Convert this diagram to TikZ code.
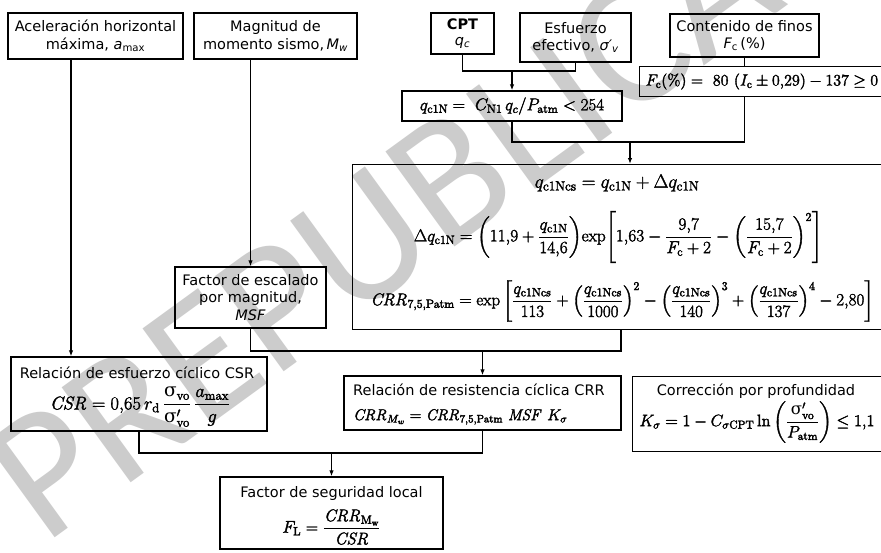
\documentclass[tikz,border=0pt]{standalone}
\usepackage{fix-cm}
\usepackage{amsmath}
\usepackage[no-math]{fontspec}
\setmainfont{DejaVu Sans}
\newfontfamily\wmfont{Carlito}
\newfontfamily\grkfont{DejaVu Serif}
\usetikzlibrary{arrows.meta}

% slightly heavier glyphs for the formulas (fill + thin stroke)
\newcommand\heavyon{\special{pdf:literal direct 2 Tr 0.35 w}}
\newcommand\heavyoff{\special{pdf:literal direct 0 Tr}}

% upright sigma for the vertical stresses (drawn without the extra stroke)
\newcommand\usig{\mathord{\text{\heavyoff\grkfont σ\heavyon}}}

\tikzset{
  box/.style={draw, line width=1.3pt, inner sep=0pt, align=center},
  conn/.style={line width=1.2pt},
  arr/.style={conn, -{Latex[length=6pt,width=4.5pt]}},
  txt/.style={font=\fontsize{14.5}{17.5}\selectfont},
  eqbase/.style={execute at begin node=\heavyon, execute at end node=\heavyoff},
  eq/.style={eqbase, font=\fontsize{17}{20}\selectfont},
  wmark/.style={text=black!20, font=\fontsize{183}{183}\selectfont\wmfont},
}

\begin{document}
\begin{tikzpicture}[x=1pt, y=-1pt]
\useasboundingbox (0,0) rectangle (881,552);
\clip (0,0) rectangle (881,552);
\fill[white] (0,0) rectangle (881,552);

% watermark
\node[wmark, anchor=base west, rotate=36, inner sep=0pt] (wm) at (44,546) {PREPUBLICACIÓN};

% input boxes
\node[box, txt, minimum width=175pt, minimum height=46pt] (acc) at (95.5,36)
  {Aceleración horizontal\\máxima, {\itshape a}\textsubscript{max}};
\node[box, txt, minimum width=163pt, minimum height=46pt] (mag) at (275.5,36)
  {Magnitud de\\momento sismo,\,{\itshape M}\textsubscript{\itshape w}};
\node[box, txt, minimum width=63pt, minimum height=41pt] (cpt) at (462.5,33.5)
  {\textbf{CPT}\\[-2pt]{\itshape q}\textsubscript{\itshape c}};
\node[box, txt, minimum width=111pt, minimum height=49pt] (esf) at (575.5,37.5)
  {Esfuerzo\\efectivo, {\itshape σ′}\textsubscript{\itshape v}};
\node[box, txt, minimum width=149pt, minimum height=43pt] (fin) at (744.5,35.5)
  {Contenido de finos\\{\itshape F}\textsubscript{c}\,(\%)};

% normalised tip resistance and fines content
\node[box, eq, minimum width=220pt, minimum height=30pt] (qn) at (512,106)
  {$q_{\mathrm{c1N}} = \ C_{\mathrm{N1}}\,q_c/P_{\mathrm{atm}} < 254$};
\node[box, eqbase, font=\fontsize{16}{19}\selectfont, minimum height=30pt, anchor=west, text width=250pt, align=left, inner xsep=6pt] (fcq) at (639,81.5)
  {$F_{\mathrm{c}}(\%) = \ 80\ (I_{\mathrm{c}} \pm 0{,}29) - 137 \geq 0$};

% clean-sand equivalent and CRR
\node[box, minimum width=540pt, minimum height=165pt, anchor=north west] (big) at (352,164) {};
\node[eqbase, font=\fontsize{19}{22}\selectfont] (e1) at (617,183)
  {$q_{\mathrm{c1Ncs}} = q_{\mathrm{c1N}} + \Delta q_{\mathrm{c1N}}$};
\node[eqbase, font=\fontsize{17.2}{21}\selectfont] (e2) at (618,237)
  {$\Delta q_{\mathrm{c1N}} = \left(11{,}9 + \dfrac{q_{\mathrm{c1N}}}{14{,}6}\right)\!\exp\!\left[1{,}63 - \dfrac{9{,}7}{F_{\mathrm{c}}+2} - \left(\dfrac{15{,}7}{F_{\mathrm{c}}+2}\right)^{2}\right]$};
\node[eq] (e3) at (622,301)
  {$\mathit{CRR}_{7{,}5,\mathrm{Patm}} = \exp\left[\dfrac{q_{\mathrm{c1Ncs}}}{113} + \left(\dfrac{q_{\mathrm{c1Ncs}}}{1000}\right)^{2} - \left(\dfrac{q_{\mathrm{c1Ncs}}}{140}\right)^{3} + \left(\dfrac{q_{\mathrm{c1Ncs}}}{137}\right)^{4} -2{,}80\right]$};

% magnitude scaling factor
\node[box, txt, minimum width=151pt, minimum height=61pt] (msf) at (250.5,297.5)
  {Factor de escalado\\por magnitud,\\{\itshape MSF}};

% cyclic stress ratio
\node[box, minimum width=256pt, minimum height=74pt] (csr) at (139,394) {};
\node[txt] (csrt) at (137,373) {Relación de esfuerzo cíclico CSR};
\node[eqbase, font=\fontsize{18.5}{22}\selectfont] (csre) at (140,407)
  {$\mathit{CSR} = 0{,}65\,r_{\mathrm{d}}\,\dfrac{\usig_{\mathrm{vo}}}{\usig'_{\mathrm{vo}}}\,\dfrac{a_{\max}}{g}$};

% cyclic resistance ratio
\node[box, minimum width=277pt, minimum height=54pt] (crr) at (482.5,403) {};
\node[txt, anchor=west, inner sep=0pt] (crrt) at (353,390) {Relación de resistencia cíclica CRR};
\node[eqbase, font=\fontsize{15.6}{19}\selectfont, anchor=west, inner sep=0pt] (crre) at (353,417)
  {$\mathit{CRR}_{M_w} = \mathit{CRR}_{7{,}5,\mathrm{Patm}}\ \mathit{MSF}\ K_{\sigma}$};

% depth correction
\node[box, minimum width=270pt, minimum height=75pt, anchor=north west] (ks) at (632,376) {};
\node[txt] (kst) at (756,391) {Corrección por profundidad};
\node[eqbase, font=\fontsize{16.5}{20}\selectfont] (kse) at (757,422)
  {$K_{\sigma} = 1 - C_{\sigma\mathrm{CPT}}\ln\left(\dfrac{\usig'_{\mathrm{vo}}}{P_{\mathrm{atm}}}\right) \leq 1{,}1$};

% factor of safety
\node[box, minimum width=223pt, minimum height=72pt] (fs) at (331.5,513) {};
\node[txt] (fst) at (331.5,493) {Factor de seguridad local};
\node[eq] (fse) at (331.5,527)
  {$F_{\mathrm{L}} = \dfrac{\mathit{CRR}_{\mathrm{M_w}}}{\mathit{CSR}}$};

% junctions
\coordinate (ax) at (71,0);
\coordinate (j1) at (512,71);
\coordinate (j2) at (630,142);
\coordinate (j3) at (482.5,351);
\coordinate (bx) at (621,0);
\coordinate (j4) at (331.5,453);

% connectors
\draw[arr] (acc.south -| ax) -- (csr.north -| ax);
\draw[arr] (mag.south -| msf.north) -- (msf.north);
\draw[conn] (cpt.south) |- (j1) -| (esf.south);
\draw[arr] (j1) -- (qn.north);
\draw[conn] (fin.south) -- (fin.south |- fcq.north);
\draw[conn] (qn.south) |- (j2) -| (fcq.south -| fin.south);
\draw[arr] (j2) -- (j2 |- big.north);
\draw[conn] (msf.south) |- (j3) -| (big.south -| bx);
\draw[arr] (j3) -- (crr.north);
\draw[conn] (csr.south) |- (j4) -| (crr.south);
\draw[arr] (j4) -- (fs.north);
\end{tikzpicture}
\end{document}
